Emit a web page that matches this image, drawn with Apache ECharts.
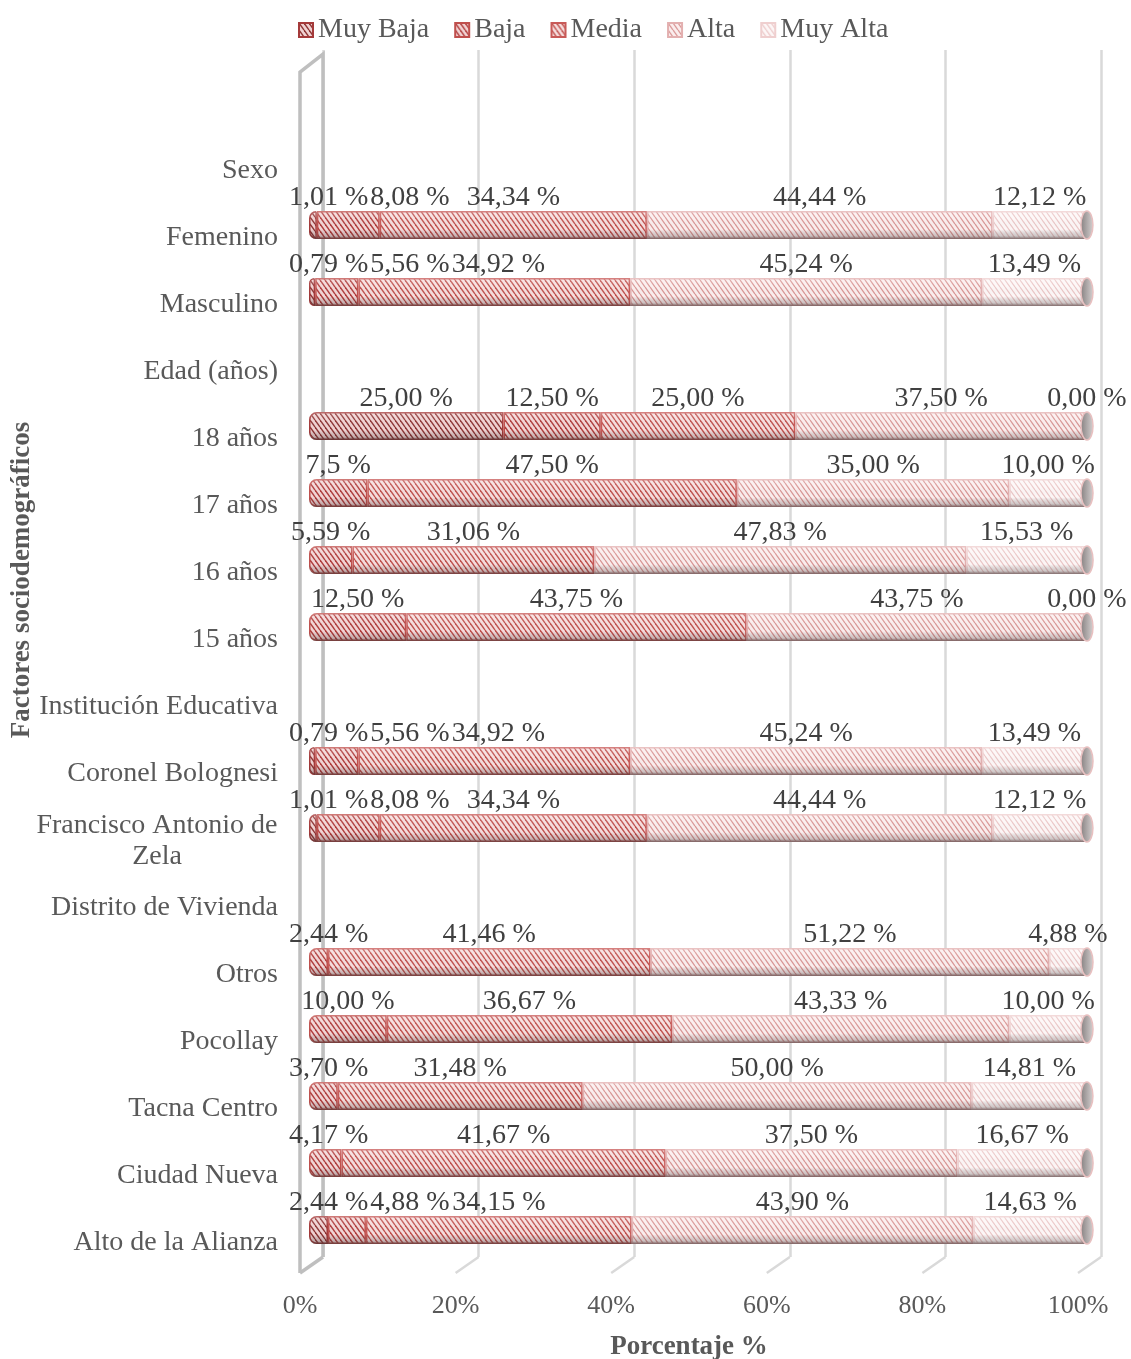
<!DOCTYPE html>
<html>
<head>
<meta charset="utf-8">
<script src="https://cdn.jsdelivr.net/npm/echarts@6/dist/echarts.min.js"></script>
<style>
  html, body { margin: 0; padding: 0; background: #fff; }
  #chart { width: 1131px; height: 1359px; }
</style>
</head>
<body>
<div id="chart"></div>
<script>
// categorías (de arriba a abajo)
const categorias = ['Sexo', 'Femenino', 'Masculino', 'Edad (años)', '18 años', '17 años', '16 años', '15 años',
  'Institución Educativa', 'Coronel Bolognesi', 'Francisco Antonio de\nZela', 'Distrito de Vivienda',
  'Otros', 'Pocollay', 'Tacna Centro', 'Ciudad Nueva', 'Alto de la Alianza']
const nombres = ['Muy Baja', 'Baja', 'Media', 'Alta', 'Muy Alta']
const muyBaja = [null, 1.01, 0.79, null, 25.00, null, null, null, null, 0.79, 1.01, null, null, null, null, null, 2.44]
const baja    = [null, 8.08, 5.56, null, 12.50, 7.5, 5.59, 12.50, null, 5.56, 8.08, null, 2.44, 10.00, 3.70, 4.17, 4.88]
const media   = [null, 34.34, 34.92, null, 25.00, 47.50, 31.06, 43.75, null, 34.92, 34.34, null, 41.46, 36.67, 31.48, 41.67, 34.15]
const alta    = [null, 44.44, 45.24, null, 37.50, 35.00, 47.83, 43.75, null, 45.24, 44.44, null, 51.22, 43.33, 50.00, 37.50, 43.90]
const muyAlta = [null, 12.12, 13.49, null, 0.00, 10.00, 15.53, 0.00, null, 13.49, 12.12, null, 4.88, 10.00, 14.81, 16.67, 14.63]
const ticksX = [0, 20, 40, 60, 80, 100]
// etiqueta escrita distinto en el original
const etiquetaEspecial = { '17 años|Baja': '7,5 %' }

const valores = [muyBaja, baja, media, alta, muyAlta]
const FONT = 'Liberation Serif'
const W = 1131, H = 1359

// layout (3D falso: plano frontal / plano trasero)
const frontLeft = 300, frontRight = 1078, depthX = 23, depthY = 16
const backTop = 50, backBottom = 1257
const barLeft = 309, barRight = 1087, barH = 28
const barTop = 124.5, barBottom = 1263.5

// patrones rayados
function rayado(bg, linea, lw, w, h) {
  const c = document.createElement('canvas')
  c.width = w; c.height = h
  const g = c.getContext('2d')
  g.fillStyle = bg
  g.fillRect(0, 0, w, h)
  g.strokeStyle = linea
  g.lineWidth = lw
  for (let k = -w; k <= w; k += w) {
    g.beginPath()
    g.moveTo(k, 0)
    g.lineTo(k + w, h)
    g.stroke()
  }
  return { image: c, repeat: 'repeat' }
}
const rellenos = [
  rayado('#f0d2d2', '#8e3434', 1.4, 5, 7),
  rayado('#f3d6d6', '#b03c3c', 1.5, 5, 7),
  rayado('#f6dede', '#c0504d', 1.4, 5, 7),
  rayado('#fbeeee', '#d99594', 1.3, 5, 7),
  rayado('#fdf7f7', '#ebc6c6', 1.2, 5, 7)
]
const bordes = ['#a53a3a', '#c0504d', '#c85a58', '#e3b0b0', '#efcfcf']

function texto(s, i) {
  const key = categorias[i] + '|' + nombres[s]
  if (etiquetaEspecial[key]) return etiquetaEspecial[key]
  return valores[s][i].toFixed(2).replace('.', ',') + ' %'
}

// separar etiquetas que se encimarían en la misma fila
const mctx = document.createElement('canvas').getContext('2d')
mctx.font = '28px "' + FONT + '"'
const pxUnidad = (barRight - barLeft) / 100
const desplaz = valores.map(() => categorias.map(() => 0))
const primero = categorias.map(() => -1)
categorias.forEach((c, i) => {
  let acc = 0, prevRight = -Infinity
  valores.forEach((arr, s) => {
    const v = arr[i]
    if (v == null) return
    if (primero[i] < 0) primero[i] = s
    const centro = barLeft + (acc + v / 2) * pxUnidad
    acc += v
    const w = mctx.measureText(texto(s, i)).width
    const pos = Math.max(centro, prevRight + 2 + w / 2, barLeft - 20 + w / 2)
    desplaz[s][i] = pos - centro
    prevRight = pos + w / 2
  })
})
const totales = categorias.map((c, i) => valores.reduce((a, arr) => a + (arr[i] || 0), 0))

const chart = echarts.init(document.getElementById('chart'))

const seriesBarras = valores.map((arr, s) => ({
  name: nombres[s],
  type: 'bar',
  stack: 'total',
  xAxisIndex: 1,
  yAxisIndex: 1,
  barWidth: barH,
  z: 2,
  itemStyle: { color: rellenos[s], borderColor: bordes[s], borderWidth: 1.5 },
  label: {
    show: true,
    position: 'top',
    distance: -1,
    color: '#404040',
    fontSize: 28,
    fontFamily: FONT,
    formatter: p => texto(s, p.dataIndex)
  },
  data: arr.map((v, i) => {
    if (v == null) return '-'
    const d = { value: v, label: { offset: [desplaz[s][i], 0] } }
    if (primero[i] === s) d.itemStyle = { borderRadius: [7, 0, 0, 7] }
    return d
  })
}))

// brillo / sombra del cilindro y tapa del extremo
const sombra = {
  type: 'custom',
  xAxisIndex: 1,
  yAxisIndex: 1,
  silent: true,
  z: 4,
  data: totales.map((t, i) => [t, i]),
  renderItem(params, api) {
    const t = api.value(0)
    if (!t) return
    const i = api.value(1)
    const a = api.coord([0, i])
    const b = api.coord([t, i])
    return {
      type: 'group',
      children: [
        {
          type: 'rect',
          shape: { x: a[0], y: a[1] - barH / 2, width: b[0] - a[0], height: barH, r: [7, 0, 0, 7] },
          style: {
            fill: new echarts.graphic.LinearGradient(0, 0, 0, 1, [
              { offset: 0, color: 'rgba(255,255,255,0.25)' },
              { offset: 0.3, color: 'rgba(255,255,255,0.05)' },
              { offset: 0.65, color: 'rgba(0,0,0,0)' },
              { offset: 0.88, color: 'rgba(70,60,60,0.25)' },
              { offset: 1, color: 'rgba(60,50,50,0.6)' }
            ])
          }
        },
        {
          type: 'ellipse',
          shape: { cx: b[0], cy: b[1], rx: 6, ry: barH / 2 },
          style: {
            fill: new echarts.graphic.LinearGradient(0, 0, 1, 0, [
              { offset: 0, color: '#847f7f' },
              { offset: 1, color: '#d8d2d2' }
            ]),
            stroke: '#e8c0c0',
            lineWidth: 1.5
          }
        }
      ]
    }
  }
}

const option = {
  animation: false,
  backgroundColor: '#fff',
  textStyle: { fontFamily: FONT },
  legend: {
    data: nombres,
    top: 11,
    left: 293,
    itemWidth: 14,
    itemHeight: 14,
    itemGap: 25,
    icon: 'rect',
    textStyle: { fontSize: 28, color: '#595959', fontFamily: FONT }
  },
  grid: [
    { left: frontLeft + depthX, right: W - frontRight - depthX, top: backTop, bottom: H - backBottom, outerBoundsMode: 'none' },
    { left: barLeft, right: W - barRight, top: barTop, bottom: H - barBottom, outerBoundsMode: 'none' },
    { left: frontLeft, right: W - frontRight, top: backTop, bottom: H - backBottom - depthY, outerBoundsMode: 'none' }
  ],
  xAxis: [
    {
      gridIndex: 0, type: 'value', min: 0, max: 100, interval: 20,
      axisLine: { show: false }, axisTick: { show: false }, axisLabel: { show: false },
      splitLine: { show: true, lineStyle: { color: '#d9d9d9', width: 2.5 } }
    },
    {
      gridIndex: 1, type: 'value', min: 0, max: 100,
      axisLine: { show: false }, axisTick: { show: false }, axisLabel: { show: false }, splitLine: { show: false }
    },
    {
      gridIndex: 2, type: 'value', min: 0, max: 100, interval: 20,
      axisLine: { show: false }, axisTick: { show: false }, splitLine: { show: false },
      axisLabel: { show: true, formatter: '{value}%', fontSize: 26, color: '#595959', margin: 20, fontFamily: FONT },
      name: 'Porcentaje %',
      nameLocation: 'middle',
      nameGap: 61,
      nameTextStyle: { fontSize: 27, fontWeight: 'bold', color: '#595959', fontFamily: FONT }
    }
  ],
  yAxis: [
    { gridIndex: 0, type: 'value', show: false },
    {
      gridIndex: 1,
      type: 'category',
      inverse: true,
      data: categorias,
      axisLine: { show: false },
      axisTick: { show: false },
      axisLabel: {
        show: true,
        margin: 31,
        fontSize: 28,
        color: '#595959',
        fontFamily: FONT,
        padding: [26, 0, 0, 0],
        formatter: v => v.indexOf('\n') >= 0 ? v.split('\n').map(l => '{c|' + l + '}').join('\n') : v,
        rich: { c: { width: 242, align: 'center', fontSize: 28, lineHeight: 31, color: '#595959', fontFamily: FONT } }
      }
    },
    { gridIndex: 2, type: 'value', show: false }
  ],
  series: seriesBarras.concat([sombra])
}
chart.setOption(option)

// pared izquierda y diagonales del piso
const xsAtras = ticksX.map(v => chart.convertToPixel({ xAxisIndex: 0 }, v))
const graficos = xsAtras.map((x, k) => ({
  type: 'line',
  z: 1,
  shape: { x1: x, y1: backBottom, x2: x - depthX, y2: backBottom + depthY },
  style: { stroke: k === 0 ? '#bfbfbf' : '#d9d9d9', lineWidth: k === 0 ? 3.5 : 2.5 }
}))
graficos.push({
  type: 'polyline',
  z: 1,
  shape: { points: [[xsAtras[0] - depthX, backBottom + depthY], [xsAtras[0] - depthX, backTop + depthY + 6], [xsAtras[0], backTop + 4], [xsAtras[0], backBottom]] },
  style: { stroke: '#bfbfbf', lineWidth: 3.5, fill: null }
})
graficos.push({
  type: 'text',
  x: 22,
  y: 580,
  rotation: Math.PI / 2,
  style: {
    text: 'Factores sociodemográficos',
    fontSize: 27,
    fontWeight: 'bold',
    fontFamily: FONT,
    fill: '#595959',
    align: 'center',
    verticalAlign: 'middle'
  }
})
chart.setOption({ graphic: graficos })
</script>
</body>
</html>
